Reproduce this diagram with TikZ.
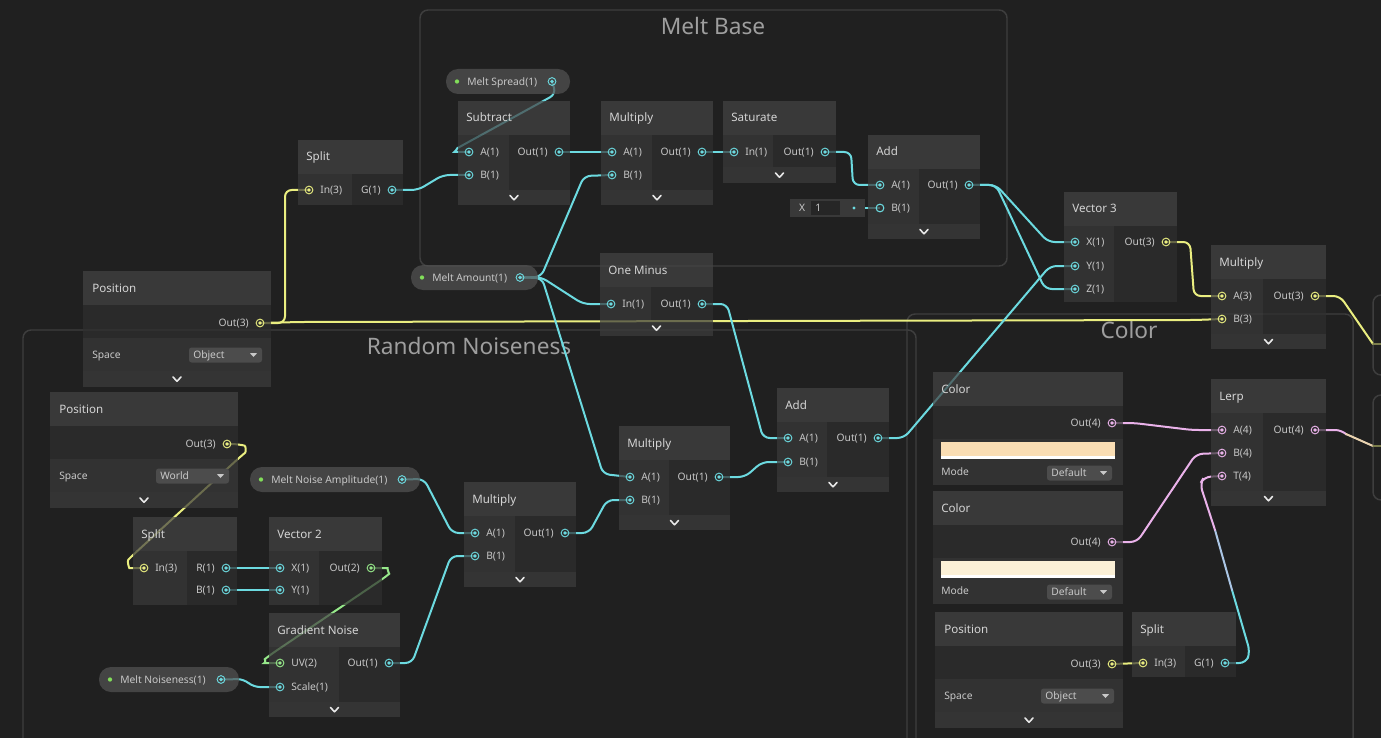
\documentclass[tikz,border=0pt]{standalone}
\usepackage{fontspec}
\setmainfont{Noto Sans}
\pgfdeclarelayer{bg}
\pgfdeclarelayer{wires}
\pgfsetlayers{bg,wires,main}
\definecolor{bgc}{RGB}{32,32,32}
\definecolor{grp}{RGB}{62,62,62}
\definecolor{hdrc}{RGB}{68,68,68}
\definecolor{inc}{RGB}{57,57,57}
\definecolor{outc}{RGB}{47,47,47}
\definecolor{barc}{RGB}{60,60,60}
\definecolor{pillc}{RGB}{82,82,82}
\definecolor{ddc}{RGB}{76,76,76}
\definecolor{fldc}{RGB}{38,38,38}
\definecolor{txt}{RGB}{200,200,200}
\definecolor{ttlc}{RGB}{212,212,212}
\definecolor{gtc}{RGB}{158,158,158}
\definecolor{chevc}{RGB}{232,232,232}
\definecolor{cy}{RGB}{108,218,224}
\definecolor{ye}{RGB}{234,238,128}
\definecolor{gr}{RGB}{150,232,138}
\definecolor{pk}{RGB}{234,178,234}
\definecolor{dotg}{RGB}{130,222,90}
\definecolor{sw1}{RGB}{250,222,180}
\definecolor{sw2}{RGB}{251,240,214}
\tikzset{
  nop/.style={fill opacity=0.72},
  ttl/.style={text=ttlc, font=\fontsize{8.7}{10}\selectfont, inner sep=0pt, anchor=base west},
  plab/.style={text=txt, font=\fontsize{7.7}{9}\selectfont, inner sep=0pt},
  gtitle/.style={text=gtc, font=\fontsize{17}{20}\selectfont, inner sep=0pt, anchor=base},
  grpline/.style={draw=grp, line width=1.1pt, rounded corners=6pt},
  wire/.style={line width=1.5pt, rounded corners=5pt, line cap=round},
}
\newcommand\chev[2]{\draw[chevc, line width=1.2pt, line cap=round, line join=round] ({#1-4},{#2-2}) -- ({#1},{#2+2.3}) -- ({#1+4},{#2-2});}
\newcommand\mnode[8]{%
  \fill[hdrc,nop] (#2,#3) rectangle (#4,#3+34);
  \fill[inc,nop] (#2,#3+34) rectangle (#5,#6);
  \fill[outc,nop] (#5,#3+34) rectangle (#4,#6);
  \if\relax\detokenize{#7}\relax\else
    \fill[barc,nop] (#2,#6) rectangle (#4,#7);
    \chev{(#2+#4)/2}{(#6+#7)/2}
  \fi
  \node[ttl] (#1) at (#2+8,#3+21) {#8};}
\newcommand\inport[5]{%
  \coordinate (#1) at (#2,#3);
  \draw[#4, line width=0.7pt] (#1) circle (2.9pt);
  \fill[#4] (#1) circle (1.4pt);
  \node[plab, anchor=base west] (#1-l) at (#2+11,#3+3.6) {#5};}
\newcommand\hport[5]{%
  \coordinate (#1) at (#2,#3);
  \draw[#4, line width=0.8pt] (#1) circle (2.9pt);
  \node[plab, anchor=base west] (#1-l) at (#2+11,#3+3.6) {#5};}
\newcommand\outport[5]{%
  \coordinate (#1) at (#2,#3);
  \draw[#4, line width=0.7pt] (#1) circle (2.9pt);
  \fill[#4] (#1) circle (1.4pt);
  \node[plab, anchor=base east] (#1-l) at (#2-11,#3+3.6) {#5};}
\newcommand\dd[5]{%
  \fill[ddc, rounded corners=2pt] (#2,#3-7.5) rectangle (#4,#3+7.5);
  \node[plab, anchor=base west] (#1) at (#2+4,#3+3.6) {#5};
  \fill[txt] (#4-12,#3-1.8) -- (#4-5,#3-1.8) -- (#4-8.5,#3+2) -- cycle;}
\newcommand\posnode[7]{%
  \fill[hdrc,nop] (#2,#3) rectangle (#4,#3+34);
  \fill[outc,nop] (#2,#3+34) rectangle (#4,#3+67);
  \fill[inc,nop] (#2,#3+67) rectangle (#4,#3+100);
  \fill[barc,nop] (#2,#3+100) rectangle (#4,#3+116);
  \chev{(#2+#4)/2}{#3+108}
  \node[ttl] (#1) at (#2+9,#3+21) {Position};
  \outport{#7}{#4-11}{#3+52}{ye}{Out(3)}
  \node[plab, anchor=base west] (#1-sp) at (#2+9,#3+84+3.6) {Space};
  \dd{#1-dd}{#5}{#3+84}{#4-9}{#6}}
\newcommand\colnode[6]{%
  \fill[hdrc,nop] (#2,#3) rectangle (#4,#3+34);
  \fill[outc,nop] (#2,#3+34) rectangle (#4,#3+67);
  \fill[inc,nop] (#2,#3+67) rectangle (#4,#3+113);
  \node[ttl] (#1) at (#2+8,#3+21) {Color};
  \outport{#6}{#4-11}{#3+51}{pk}{Out(4)}
  \fill[#5] (#2+8,#3+70) rectangle (#4-8,#3+84);
  \fill[white] (#2+8,#3+84) rectangle (#4-8,#3+87);
  \node[plab, anchor=base west] (#1-md) at (#2+8,#3+100+3.6) {Mode};
  \dd{#1-dd}{#4-76}{#3+101}{#4-11}{Default}}
\newcommand\pill[6]{%
  \fill[pillc, rounded corners=9pt, nop] (#2,#3) rectangle (#4,#3+25);
  \fill[dotg] (#2+11,#3+12.5) circle (1.6pt);
  \node[plab, anchor=base west] (#1) at (#2+21,#3+12.5+3.6) {#5};
  \coordinate (#6) at (#4-18,#3+12.5);
  \draw[cy, line width=0.7pt] (#6) circle (2.9pt);
  \fill[cy] (#6) circle (1.4pt);}
\begin{document}
\begin{tikzpicture}[x=0.75pt,y=-0.75pt]
\useasboundingbox (0,0) rectangle (1381,738);
\begin{pgfonlayer}{bg}
\fill[bgc] (0,0) rectangle (1381,738);
\draw[grpline] (420,10) rectangle (1007,266);
\draw[grpline] (23,330) rectangle (916,770);
\draw[grpline] (907,314) rectangle (1353,770);
\draw[grpline] (1373,295) rectangle (1400,375);
\draw[grpline] (1373,395) rectangle (1400,500);
\node[gtitle] (gMelt) at (713,35) {Melt Base};
\node[gtitle] (gNoise) at (469,354) {Random Noiseness};
\node[gtitle] (gColor) at (1129,338) {Color};
\end{pgfonlayer}
% ---- Melt Base ----
\pill{msp}{446}{69}{570}{Melt Spread(1)}{ms-out}
\mnode{sub}{458}{101}{570}{509}{190}{205}{Subtract}
\inport{sub-a}{469}{152}{cy}{A(1)}
\inport{sub-b}{469}{175}{cy}{B(1)}
\outport{sub-out}{559}{152}{cy}{Out(1)}
\mnode{mulT}{601}{101}{713}{652}{190}{205}{Multiply}
\inport{mulT-a}{612}{152}{cy}{A(1)}
\inport{mulT-b}{612}{175}{cy}{B(1)}
\outport{mulT-out}{702}{152}{cy}{Out(1)}
\mnode{sat}{723}{101}{836}{773}{167}{183}{Saturate}
\inport{sat-in}{734}{152}{cy}{In(1)}
\outport{sat-out}{825}{152}{cy}{Out(1)}
\mnode{addT}{868}{135}{980}{919}{224}{239}{Add}
\inport{addT-a}{880}{185}{cy}{A(1)}
\hport{addT-b}{880}{208}{cy}{B(1)}
\outport{addT-out}{969}{185}{cy}{Out(1)}
\fill[inc] (790,199) rectangle (865,217);
\node[plab, anchor=base] (xlab) at (802,211.6) {X};
\fill[fldc] (811,201) rectangle (840,215);
\node[plab, anchor=base west] (xval) at (815,211.6) {1};
\coordinate (xf) at (854,208);
\fill[cy] (xf) circle (1.3pt);
% ---- left / middle ----
\mnode{splitT}{298}{140}{403}{352}{205}{}{Split}
\inport{splitT-in}{309}{190}{ye}{In(3)}
\outport{splitT-g}{392}{190}{cy}{G(1)}
\posnode{posT}{83}{271}{271}{189}{Object}{posT-out}
\pill{mam}{411}{265}{538}{Melt Amount(1)}{ma-out}
\mnode{onem}{600}{253}{713}{651}{320}{336}{One Minus}
\inport{onem-in}{611}{304}{cy}{In(1)}
\outport{onem-out}{702}{304}{cy}{Out(1)}
\mnode{vthree}{1064}{192}{1177}{1114}{302}{}{Vector 3}
\inport{vthree-x}{1075}{242}{cy}{X(1)}
\inport{vthree-y}{1075}{266}{cy}{Y(1)}
\inport{vthree-z}{1075}{289}{cy}{Z(1)}
\outport{vthree-out}{1166}{242}{ye}{Out(3)}
\mnode{mulR}{1211}{245}{1326}{1263}{334}{349}{Multiply}
\inport{mulR-a}{1222}{296}{ye}{A(3)}
\inport{mulR-b}{1222}{319}{ye}{B(3)}
\outport{mulR-out}{1315}{296}{ye}{Out(3)}
% ---- Random Noiseness ----
\posnode{posW}{50}{392}{238}{156}{World}{posW-out}
\pill{mnap}{250}{467}{420}{Melt Noise Amplitude(1)}{mna-out}
\mnode{splitB}{133}{517}{237}{187}{605}{}{Split}
\inport{splitB-in}{144}{568}{ye}{In(3)}
\outport{splitB-r}{226}{568}{cy}{R(1)}
\outport{splitB-b}{226}{590}{cy}{B(1)}
\mnode{vtwo}{269}{517}{382}{319}{605}{}{Vector 2}
\inport{vtwo-x}{280}{568}{cy}{X(1)}
\inport{vtwo-y}{280}{590}{cy}{Y(1)}
\outport{vtwo-out}{371}{568}{gr}{Out(2)}
\mnode{gn}{269}{613}{400}{339}{702}{717}{Gradient Noise}
\inport{gn-uv}{280}{663}{gr}{UV(2)}
\inport{gn-scale}{280}{687}{cy}{Scale(1)}
\outport{gn-out}{389}{663}{cy}{Out(1)}
\pill{mnp}{99}{667}{239}{Melt Noiseness(1)}{mn-out}
\mnode{mulB}{464}{482}{576}{515}{572}{587}{Multiply}
\inport{mulB-a}{475}{533}{cy}{A(1)}
\inport{mulB-b}{475}{556}{cy}{B(1)}
\outport{mulB-out}{565}{533}{cy}{Out(1)}
\mnode{mulM}{619}{426}{730}{669}{515}{530}{Multiply}
\inport{mulM-a}{630}{477}{cy}{A(1)}
\inport{mulM-b}{630}{500}{cy}{B(1)}
\outport{mulM-out}{719}{477}{cy}{Out(1)}
\mnode{addM}{777}{388}{889}{827}{477}{492}{Add}
\inport{addM-a}{788}{438}{cy}{A(1)}
\inport{addM-b}{788}{462}{cy}{B(1)}
\outport{addM-out}{878}{438}{cy}{Out(1)}
% ---- Color ----
\colnode{colA}{933}{372}{1123}{sw1}{c1-out}
\colnode{colB}{933}{491}{1123}{sw2}{c2-out}
\mnode{lerp}{1211}{379}{1326}{1263}{491}{506}{Lerp}
\inport{lerp-a}{1222}{430}{pk}{A(4)}
\inport{lerp-b}{1222}{453}{pk}{B(4)}
\inport{lerp-t}{1222}{476}{pk}{T(4)}
\outport{lerp-out}{1315}{430}{pk}{Out(4)}
\posnode{posBR}{935}{612}{1123}{1041}{Object}{posBR-out}
\mnode{splitBR}{1132}{612}{1236}{1185}{677}{}{Split}
\inport{splitBR-in}{1143}{663}{ye}{In(3)}
\outport{splitBR-g}{1225}{663}{cy}{G(1)}
\coordinate (m1) at (1373,344);
\coordinate (m2) at (1373,446);
% ---- wires ----
\begin{pgfonlayer}{wires}
\draw[wire,ye] (posT-out) -- (285,323) -- (285,190) -- (splitT-in);
\draw[wire,ye] (posT-out) -- (300,322) -- (1195,320) -- (mulR-b);
\draw[wire,cy] (splitT-g) -- (418,190) -- (443,175) -- (sub-b);
\draw[wire,cy] (ms-out) -- (556,94) -- (463,145) .. controls (456,149) and (456,152) .. (461,152) -- (sub-a);
\draw[wire,cy] (sub-out) -- (mulT-a);
\draw[wire,cy] (ma-out) -- (541,277) -- (584,176) -- (mulT-b);
\draw[wire,cy] (ma-out) -- (541,277) -- (583,304) -- (onem-in);
\draw[wire,cy] (ma-out) -- (542,278) -- (603,474) -- (mulM-a);
\draw[wire,cy] (mulT-out) -- (sat-in);
\draw[wire,cy] (sat-out) -- (851,152) -- (853,185) -- (addT-a);
\draw[cy, line width=1.1pt] (xf) -- (addT-b);
\draw[wire,cy] (addT-out) -- (996,185) -- (1048,242) -- (vthree-x);
\draw[wire,cy] (addT-out) -- (996,185) -- (1045,289) -- (vthree-z);
\draw[wire,cy] (addM-out) -- (904,438) -- (1050,266) -- (vthree-y);
\draw[wire,ye] (vthree-out) -- (1190,242) -- (1194,296) -- (mulR-a);
\draw[wire,ye] (mulR-out) -- (1340,296) -- (m1);
\draw[wire,ye!45!bgc] (m1) -- ++(10,0);
\draw[wire,pk] (lerp-out) -- (1342,430) -- (1346,434);
\draw[wire,pk!45!ye] (1346,434) -- (m2);
\draw[wire,ye!45!bgc] (m2) -- ++(10,0);
\draw[wire,cy] (onem-out) -- (727,304) -- (763,438) -- (addM-a);
\draw[wire,cy] (mulM-out) -- (745,477) -- (762,462) -- (addM-b);
\draw[wire,cy] (mulB-out) -- (589,533) -- (607,500) -- (mulM-b);
\draw[wire,cy] (mna-out) -- (424,479) -- (452,533) -- (mulB-a);
\draw[wire,cy] (gn-out) -- (412,663) -- (451,556) -- (mulB-b);
\draw[wire,cy] (splitB-r) -- (vtwo-x);
\draw[wire,cy] (splitB-b) -- (vtwo-y);
\draw[wire,cy] (mn-out) -- (244,679) -- (253,687) -- (gn-scale);
\draw[wire,ye] (posW-out) -- (238,444) .. controls (246,446) and (246,452) .. (240,457) -- (133,555) .. controls (127,561) and (129,568) .. (136,568) -- (splitB-in);
\draw[wire,gr] (vtwo-out) -- (381,568) .. controls (387,568) and (389,574) .. (384,578) -- (270,655) .. controls (265,659) and (266,663) .. (271,663) -- (gn-uv);
\draw[wire,pk] (c1-out) -- (1134,423) -- (1192,430) -- (lerp-a);
\draw[wire,pk] (c2-out) -- (1137,542) -- (1196,454) -- (lerp-b);
\draw[wire,ye] (posBR-out) -- (splitBR-in);
\draw[wire,cy] (splitBR-g) -- (1246,663) -- (1250,652) -- (1232,590);
\draw[wire,cy!50!pk] (1232,590) -- (1215,530);
\draw[wire,pk] (1215,530) -- (1200,484) -- (1204,477) -- (lerp-t);
\end{pgfonlayer}
\end{tikzpicture}
\end{document}
